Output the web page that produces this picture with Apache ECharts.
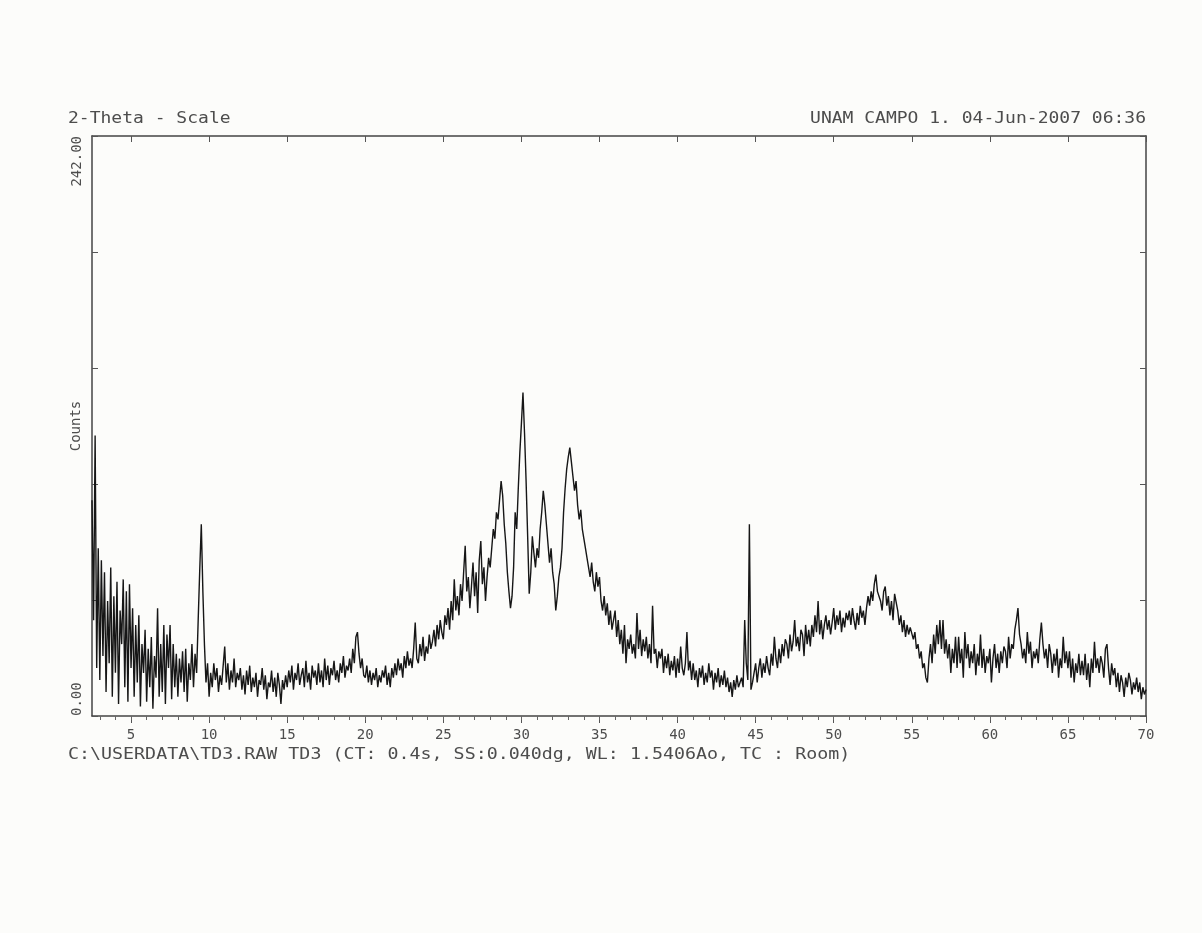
<!DOCTYPE html>
<html>
<head>
<meta charset="utf-8">
<title>TD3 2-Theta scan</title>
<script src="https://cdn.jsdelivr.net/npm/echarts@6/dist/echarts.min.js"></script>
<style>
  html, body { margin: 0; padding: 0; background: #fcfcfa; }
  #main { width: 1202px; height: 933px; }
</style>
</head>
<body>
<div id="main"></div>
<script>
// scan grid (deg 2-theta)
var thetaStart = 2.5;
var thetaStep = 0.1;

// counts, one array per block of angles
var counts02 = [90, 40, 117, 20, 70,                 // 2.5 - 2.9
  15, 65, 25, 60, 10, 48, 22, 62, 8, 50,
  18, 56, 5, 44, 30, 57, 12, 52, 6, 55,
  20, 45, 8, 38, 14, 42, 4, 30, 18, 36,
  6, 28, 12, 33, 3, 25, 16, 45, 8, 30,
  10, 38, 5, 34, 20, 38, 7, 30, 12, 26,
  8, 24, 14, 27, 10, 28, 6, 22, 15, 30,
  12, 26, 18, 40, 61, 80, 52, 30, 14, 22];            // .. 9.9
var counts10 = [8, 18, 12, 22, 15, 20, 10, 17, 13, 21,
  29, 14, 22, 11, 19, 14, 24, 12, 18, 15,
  20, 11, 17, 9, 19, 13, 21, 10, 16, 12,
  18, 8, 15, 13, 20, 11, 17, 7, 14, 12,
  19, 10, 16, 8, 18, 13, 5, 15, 11, 17];
var counts15 = [12, 19, 14, 21, 11, 18, 15, 22, 13, 17,
  20, 12, 23, 14, 18, 11, 21, 16, 19, 13,
  22, 14, 19, 12, 24, 15, 21, 13, 20, 17,
  23, 15, 19, 14, 22, 18, 25, 16, 21, 19,
  24, 18, 28, 22, 33, 35, 26, 20, 24, 17];
var counts20 = [16, 21, 14, 19, 13, 18, 15, 20, 12, 17,
  14, 19, 16, 21, 13, 18, 12, 20, 16, 22,
  17, 24, 19, 22, 16, 25, 20, 27, 21, 24,
  20, 28, 39, 24, 22, 30, 25, 33, 23, 29,
  26, 34, 28, 31, 36, 29, 38, 32, 40, 35];
var counts25 = [32, 42, 38, 45, 36, 48, 40, 57, 44, 50,
  42, 55, 48, 60, 71, 52, 58, 45, 54, 64,
  50, 60, 43, 65, 73, 55, 62, 48, 58, 66,
  62, 70, 78, 74, 85, 82, 90, 98, 92, 80,
  72, 60, 52, 45, 50, 62, 85, 78, 95, 110];
var counts30 = [122, 135, 118, 98, 75, 51, 60, 75, 68, 62,
  70, 66, 78, 85, 94, 88, 80, 72, 64, 70,
  60, 55, 44, 50, 58, 62, 70, 85, 95, 103,
  108, 112, 106, 100, 94, 98, 88, 82, 86, 78,
  74, 70, 66, 62, 58, 64, 56, 52, 60, 54];
var counts35 = [58, 48, 44, 50, 42, 47, 38, 44, 36, 40,
  44, 33, 40, 30, 36, 26, 38, 22, 32, 28,
  34, 26, 30, 24, 43, 28, 36, 25, 32, 27,
  33, 24, 30, 22, 46, 26, 28, 20, 27, 24,
  28, 18, 25, 20, 26, 17, 23, 19, 25, 16];
var counts40 = [24, 18, 29, 20, 17, 22, 35, 19, 23, 15,
  22, 15, 19, 12, 20, 16, 21, 13, 18, 14,
  22, 16, 19, 11, 18, 14, 20, 12, 17, 13,
  19, 12, 16, 10, 14, 8, 15, 11, 17, 12,
  14, 16, 12, 40, 22, 15, 80, 11, 14, 18];
var counts45 = [22, 14, 20, 24, 16, 22, 18, 25, 20, 17,
  26, 21, 33, 24, 20, 28, 22, 30, 25, 32,
  30, 24, 34, 27, 31, 40, 29, 33, 27, 36,
  34, 25, 38, 30, 36, 29, 38, 33, 42, 35,
  48, 34, 40, 32, 38, 42, 36, 40, 34, 39];
var counts50 = [45, 36, 42, 38, 44, 35, 41, 37, 43, 40,
  44, 38, 45, 40, 36, 43, 38, 46, 41, 44,
  38, 45, 50, 46, 52, 48, 55, 59, 52, 50,
  48, 44, 52, 54, 46, 50, 42, 48, 40, 51,
  51, 44, 38, 42, 35, 40, 33, 38, 34, 37];
var counts55 = [37, 32, 35, 28, 30, 24, 27, 20, 22, 16,
  14, 24, 30, 22, 34, 26, 38, 30, 40, 28,
  40, 26, 32, 24, 30, 18, 28, 22, 33, 20,
  33, 22, 28, 16, 35, 24, 30, 20, 27, 22,
  30, 17, 26, 21, 34, 20, 28, 18, 25, 22];
var counts60 = [28, 14, 24, 30, 20, 26, 18, 27, 22, 29,
  27, 20, 33, 24, 30, 28, 36, 40, 45, 34,
  30, 24, 28, 22, 35, 26, 31, 20, 27, 24,
  28, 22, 32, 39, 30, 24, 28, 20, 30, 26,
  18, 26, 21, 28, 16, 24, 20, 33, 22, 27];
var counts65 = [20, 27, 16, 24, 14, 22, 18, 26, 17, 23,
  17, 26, 15, 22, 12, 24, 18, 31, 20, 24,
  18, 25, 22, 16, 28, 30, 20, 13, 22, 17,
  20, 12, 18, 10, 17, 14, 8, 16, 12, 18,
  15, 9, 14, 11, 16, 10, 14, 7, 12, 9,
  11];                                                // .. 70.0

var counts = [].concat(counts02, counts10, counts15, counts20, counts25, counts30,
  counts35, counts40, counts45, counts50, counts55, counts60, counts65);

var xMajorTicks = [5, 10, 15, 20, 25, 30, 35, 40, 45, 50, 55, 60, 65, 70];
var xMinorTicks = [];
for (var t = 3; t < 70; t++) xMinorTicks.push(t);
var yLabels = ['0.00', '242.00'];

var headerLeft = '2-Theta - Scale';
var headerRight = 'UNAM CAMPO 1. 04-Jun-2007 06:36';
var footer = 'C:\\USERDATA\\TD3.RAW TD3 (CT: 0.4s, SS:0.040dg, WL: 1.5406Ao, TC : Room)';

var seriesData = counts.map(function (c, i) {
  return [+(thetaStart + i * thetaStep).toFixed(2), c];
});

var ink = '#4d4d4d';
var mono = '"DejaVu Sans Mono", "Liberation Mono", monospace';

var myChart = echarts.init(document.getElementById('main'));

var option = {
  animation: false,
  backgroundColor: '#fcfcfa',
  grid: { left: 92, right: 56, top: 136, bottom: 217 },
  xAxis: [
    {
      type: 'value', min: 2.5, max: 70, position: 'bottom',
      axisLine: { lineStyle: { color: '#444', width: 1.5 } },
      axisTick: { customValues: xMajorTicks, inside: false, length: 7, lineStyle: { color: '#555' } },
      axisLabel: { customValues: xMajorTicks, margin: 12, color: ink, fontFamily: mono, fontSize: 14 },
      splitLine: { show: false }
    },
    {
      type: 'value', min: 2.5, max: 70, position: 'bottom',
      axisLine: { show: false },
      axisTick: { customValues: xMinorTicks, inside: false, length: 4, lineStyle: { color: '#666' } },
      axisLabel: { show: false },
      splitLine: { show: false }
    },
    {
      type: 'value', min: 2.5, max: 70, position: 'top',
      axisLine: { lineStyle: { color: '#444', width: 1.5 } },
      axisTick: { customValues: xMajorTicks, inside: true, length: 6, lineStyle: { color: '#555' } },
      axisLabel: { show: false },
      splitLine: { show: false }
    }
  ],
  yAxis: [
    {
      type: 'value', min: 0, max: 242, interval: 48.4, position: 'left',
      name: 'Counts', nameLocation: 'middle', nameGap: 9, nameRotate: 90,
      nameMoveOverlap: false,
      nameTextStyle: { color: ink, fontFamily: mono, fontSize: 14 },
      axisLine: { show: true, lineStyle: { color: '#444', width: 1.5 } },
      axisTick: { show: true, inside: true, length: 6, lineStyle: { color: '#555' } },
      axisLabel: {
        rotate: 90, margin: 8, color: ink, fontFamily: mono, fontSize: 14,
        alignMinLabel: 'left', alignMaxLabel: 'right',
        formatter: function (v) {
          if (v === 0) return yLabels[0];
          if (Math.abs(v - 242) < 0.01) return yLabels[1];
          return '';
        }
      },
      splitLine: { show: false }
    },
    {
      type: 'value', min: 0, max: 242, interval: 48.4, position: 'right',
      axisLine: { show: true, lineStyle: { color: '#444', width: 1.5 } },
      axisTick: { show: true, inside: true, length: 6, lineStyle: { color: '#555' } },
      axisLabel: { show: false },
      splitLine: { show: false }
    }
  ],
  graphic: [
    { type: 'text', x: 68, y: 112, scaleX: 1.2,
      style: { text: headerLeft, fill: ink, font: '15px ' + mono, align: 'left' } },
    { type: 'text', x: 1146, y: 112, scaleX: 1.2,
      style: { text: headerRight, fill: ink, font: '15px ' + mono, align: 'right' } },
    { type: 'text', x: 68, y: 748, scaleX: 1.22,
      style: { text: footer, fill: ink, font: '15px ' + mono, align: 'left' } }
  ],
  series: [
    {
      type: 'line',
      xAxisIndex: 0,
      yAxisIndex: 0,
      data: seriesData,
      showSymbol: false,
      sampling: null,
      lineStyle: { color: '#161616', width: 1.4 }
    }
  ]
};

myChart.setOption(option);
</script>
</body>
</html>
